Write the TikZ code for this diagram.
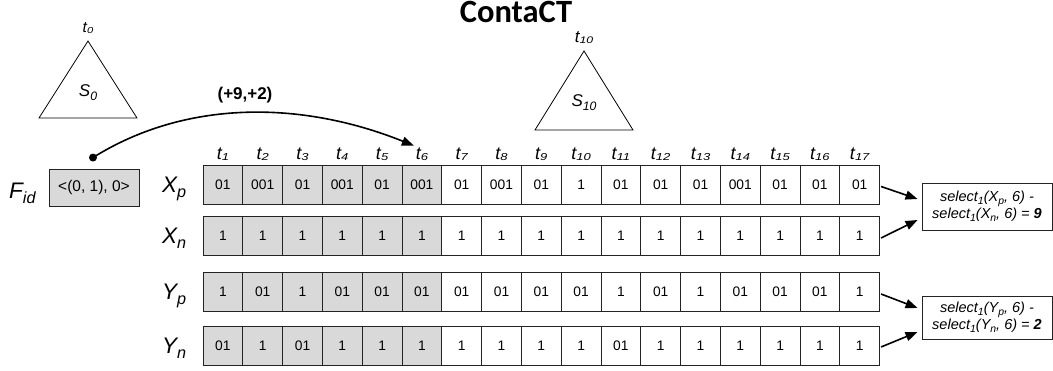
\documentclass[tikz,border=0pt]{standalone}
\usepackage{fontspec}
\setmainfont{Liberation Sans}
\newfontfamily\titlefont{Carlito}
\usetikzlibrary{arrows.meta,calc}
\definecolor{cellgray}{RGB}{217,217,217}
\definecolor{edge}{RGB}{35,35,35}
\newcommand\fsz[1]{\fontsize{#1}{#1}\selectfont}
% lowered, scaled index
\newcommand\low[1]{\raisebox{-0.22em}{\scalebox{0.72}{#1}}}
% flat index used for the time stamps
\newcommand\tlow[1]{\raisebox{-0.05em}{\scalebox{0.72}[0.56]{#1}}}
\begin{document}
\begin{tikzpicture}[x=1pt,y=-1pt,
  cell/.style={draw=edge, line width=0.9pt, minimum width=39.8pt, minimum height=39pt,
    inner sep=0pt, anchor=center, font=\fsz{13.8}},
  shaded/.style={cell, fill=cellgray},
  rowlabel/.style={anchor=base west, inner sep=0pt, font=\fsz{22.5}\itshape},
  tlabel/.style={anchor=base, inner sep=0pt, font=\fsz{18}\itshape},
  trilabel/.style={anchor=base, inner sep=0pt, font=\fsz{17}\itshape},
  tree/.style={draw=black, line width=0.8pt},
  selbox/.style={draw=edge, line width=0.9pt, fill=white, minimum width=130pt,
    inner sep=0pt, align=center, font=\fsz{14.5}\itshape},
  link/.style={line width=1.6pt, -{Triangle[length=12pt,width=9pt]}}]
\useasboundingbox (0,0) rectangle (1053,371);

% title
\node[anchor=base, inner sep=0pt, font=\titlefont\bfseries\fsz{32.5}] (title) at (516,23) {ContaCT};

% subtree S0
\draw[tree] (88,41) -- (137,118) -- (39,118) -- cycle;
\node[tlabel, font=\fsz{15.5}\itshape] (t0) at (88,33) {t\tlow{0}};
\node[trilabel] (s0) at (88,97) {S\low{0}};

% subtree S10
\draw[tree] (584,51) -- (633,130) -- (535,130) -- cycle;
\node[tlabel, font=\fsz{17}\itshape] (t10top) at (584,43) {t\tlow{10}};
\node[trilabel] (s10) at (584,107) {S\low{10}};

% F_id
\node[rowlabel] (fidlab) at (9,199) {F\low{id}};
\node[shaded, minimum width=90pt, minimum height=37pt, font=\fsz{15.5}] (fid) at (94,187.5) {<(0, 1), 0>};

% row labels
\node[rowlabel] (xplab) at (162,193) {X\low{p}};
\node[rowlabel] (xnlab) at (162,244) {X\low{n}};
\node[rowlabel] (yplab) at (162,300) {Y\low{p}};
\node[rowlabel] (ynlab) at (162,354) {Y\low{n}};

% column headers and bit-vector cells
\foreach \i in {1,...,17}{
  \pgfmathsetmacro\cx{203+(\i-0.5)*39.8}
  \node[tlabel] (t\i) at (\cx,159.5) {t\tlow{\i}};
}
\foreach \row/\cy/\vals in {
  xp/184.5/{01,001,01,001,01,001,01,001,01,1,01,01,01,001,01,01,01},
  xn/236/{1,1,1,1,1,1,1,1,1,1,1,1,1,1,1,1,1},
  yp/292/{1,01,1,01,01,01,01,01,01,01,1,01,1,01,01,01,1},
  yn/346/{01,1,01,1,1,1,1,1,1,1,01,1,1,1,1,1,1}}{
  \foreach \v [count=\i] in \vals {
    \pgfmathsetmacro\cx{203+(\i-0.5)*39.8}
    \ifnum\i<7 \def\cellstyle{shaded}\else\def\cellstyle{cell}\fi
    \node[\cellstyle] (\row-\i) at (\cx,\cy) {\v};
  }
}

% jump from F_id to t6
\coordinate (src) at ($(fid.north)+(-1,-11)$);
\coordinate (dst) at ($(t6.north)+(-8,-2)$);
\fill (src) circle (4);
\draw[link] (src) .. controls (185,100) and (300,100) .. (dst);
\node[anchor=base, inner sep=0pt, font=\fsz{17}\bfseries] (offs) at (245,100) {(+9,+2)};

% select results
\node[selbox, minimum height=47pt] (selx) at (987,206.5)
  {select\low{1}(X\low{p}, 6) -\\select\low{1}(X\low{n}, 6) = \textbf{9}};
\node[selbox, minimum height=43pt] (sely) at (987,317.5)
  {select\low{1}(Y\low{p}, 6) -\\select\low{1}(Y\low{n}, 6) = \textbf{2}};

\draw[link] ($(xp-17.east)+(1,2)$) -- ($(selx.west)+(-4,-7.5)$);
\draw[link] ($(xn-17.east)+(1,2)$) -- ($(selx.west)+(-4,13.5)$);
\draw[link] ($(yp-17.east)+(1,2)$) -- ($(sely.west)+(-4,-9.5)$);
\draw[link] ($(yn-17.east)+(1,1)$) -- ($(sely.west)+(-4,14.5)$);
\end{tikzpicture}
\end{document}
